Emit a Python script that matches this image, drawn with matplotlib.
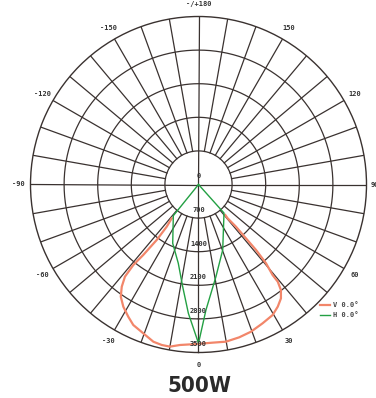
import numpy as np
import matplotlib
matplotlib.use("Agg")
import matplotlib.pyplot as plt
from matplotlib import font_manager
from matplotlib.font_manager import FontProperties

# ---- data ----
ring_values = [700, 1400, 2100, 2800, 3500]
ring_labels = ["0", "700", "1400", "2100", "2800", "3500"]
angle_tick_deg = [0, 30, 60, 90, 120, 150, 180, 210, 240, 270, 300, 330]
angle_tick_labels = ["0", "30", "60", "90", "120", "150", "-/+180",
                     "-150", "-120", "-90", "-60", "-30"]

# V 0.0° curve: angle (deg, 0 = down, positive towards right) and intensity (cd)
v_angle = [-38.4, -37.0, -37.0, -38.1, -39.0, -38.6, -36.9, -34.7, -31.6, -28.0,
           -24.9, -20.4, -16.0, -12.9, -10.0, -6.6, -0.6, 5.1, 9.9, 14.9,
           19.6, 24.8, 29.6, 33.0, 35.9, 38.0, 39.2, 39.3, 40.6, 41.3,
           41.4, 41.6, 40.8, 41.3]
v_value = [898, 1101, 1447, 1865, 2158, 2456, 2663, 2844, 2989, 3118,
           3227, 3306, 3408, 3430, 3430, 3366, 3323, 3308, 3324, 3295,
           3256, 3185, 3127, 3033, 2929, 2789, 2612, 2437, 2162, 1816,
           1496, 1177, 931, 846]

# H 0.0° curve
h_angle = [0.0, -38.9, -23.7, -14.4, -8.8, -4.5, 0.0, 3.4, 10.7, 20.3, 41.8, 0.0]
h_value = [0, 835, 1337, 1694, 2154, 2691, 3308, 2619, 1955, 1454, 797, 0]

legend_labels = ["V 0.0\u00b0", "H 0.0\u00b0"]
title_text = "500W"

# ---- styling ----
W, H, DPI = 376, 398, 100
grid_col = "#3a3230"
v_col = "#f2866a"
h_col = "#23a043"
mono = "DejaVu Sans Mono"


def pick_condensed_bold():
    best = None
    for f in font_manager.fontManager.ttflist:
        name = f.name.lower()
        fn = f.fname.lower()
        cond = ("condensed" in name or "narrow" in name or "condensed" in fn
                or "narrow" in fn or str(f.stretch) in ("condensed", "semi-condensed",
                                                         "extra-condensed"))
        if not cond:
            continue
        w = f.weight if isinstance(f.weight, int) else (700 if "bold" in str(f.weight) else 400)
        italic = f.style != "normal"
        score = abs(w - 700) + (1000 if italic else 0)
        if best is None or score < best[0]:
            best = (score, f.fname)
    if best is not None:
        return FontProperties(fname=best[1], size=16)
    return FontProperties(family="DejaVu Sans", weight="bold", stretch="condensed", size=16)


fig = plt.figure(figsize=(W / DPI, H / DPI), dpi=DPI)
fig.patch.set_facecolor("white")

cx, cy, R = 198.5, 184.5, 168.0
ax = fig.add_axes([(cx - R) / W, (H - cy - R) / H, 2 * R / W, 2 * R / H],
                  projection="polar")
ax.set_theta_zero_location("S")
ax.set_theta_direction(1)
rmax = ring_values[-1]
ax.set_ylim(0, rmax)
ax.grid(False)
ax.set_xticks([])
ax.set_yticks([])
ax.spines["polar"].set_color(grid_col)
ax.spines["polar"].set_linewidth(1.0)
ax.set_facecolor("white")

# rings
tt = np.linspace(0, 2 * np.pi, 721)
for rv in ring_values[:-1]:
    ax.plot(tt, np.full_like(tt, rv), color=grid_col, lw=0.9, zorder=1)
# spokes every 10 degrees
for d in range(0, 360, 10):
    th = np.deg2rad(d)
    r0 = 0 if d % 90 == 0 else ring_values[0]
    ax.plot([th, th], [r0, rmax], color=grid_col, lw=0.9, zorder=1)

# curves
lv, = ax.plot(np.deg2rad(v_angle), v_value, color=v_col, lw=1.6, zorder=3,
              label=legend_labels[0], solid_joinstyle="round")
lh, = ax.plot(np.deg2rad(h_angle), h_value, color=h_col, lw=1.0, zorder=4,
              label=legend_labels[1])

# radial labels
px2pt = 72 / DPI
for i, lab in enumerate(ring_labels):
    rv = 0 if i == 0 else ring_values[i - 1]
    ax.annotate(lab, xy=(0, rv), xytext=(0, 8 * px2pt), textcoords="offset points",
                ha="center", va="center", fontsize=5, fontweight="bold",
                family=mono, color="#333333", zorder=5, annotation_clip=False)

# angle labels
for d, lab in zip(angle_tick_deg, angle_tick_labels):
    th = np.deg2rad(d)
    if d == 90:
        ax.text(th, rmax * 172 / R, lab, ha="left", va="center", fontsize=5,
                fontweight="bold", family=mono, color="#333333", clip_on=False)
    elif d == 270:
        ax.text(th, rmax * 173.5 / R, lab, ha="right", va="center", fontsize=5,
                fontweight="bold", family=mono, color="#333333", clip_on=False)
    else:
        ax.text(th, rmax * 180.5 / R, lab, ha="center", va="center", fontsize=5,
                fontweight="bold", family=mono, color="#333333", clip_on=False)

# legend
leg = fig.legend(handles=[lv, lh], labels=legend_labels, loc="upper left",
                 bbox_to_anchor=(320 / W, 1 - 302 / H), frameon=False,
                 handlelength=1.44, handletextpad=0.45,
                 labelspacing=0.6, borderpad=0, borderaxespad=0,
                 prop={"family": mono, "weight": "bold", "size": 5})
for t in leg.get_texts():
    t.set_color("#444444")

tp = pick_condensed_bold()
fig.text(199.7 / W, 1 - 385.5 / H, title_text, ha="center", va="center",
         fontproperties=tp, color="#2a2a2a")

fig.savefig("out.png", dpi=DPI, facecolor="white")
